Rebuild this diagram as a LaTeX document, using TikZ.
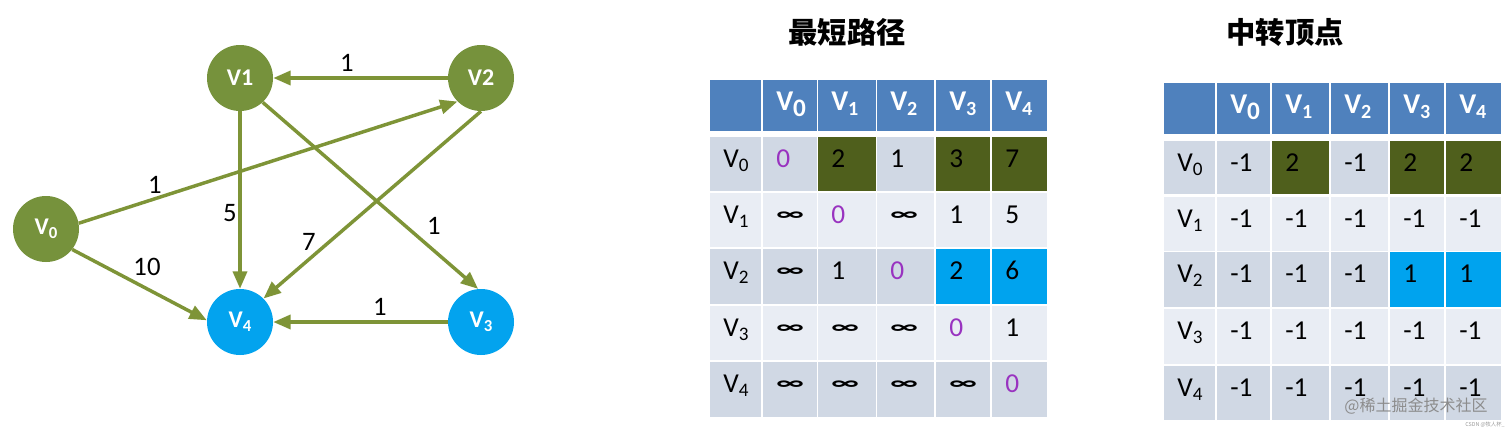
\documentclass[tikz,border=0pt]{standalone}
\usepackage{fontspec}
\usepackage{graphicx}
\setmainfont{Carlito}
\newfontfamily\cjk{Noto Sans CJK SC}
\usetikzlibrary{arrows.meta}
\definecolor{nodeolive}{HTML}{76923C}
\definecolor{edgeolive}{HTML}{7E9437}
\definecolor{nodeblue}{HTML}{03A3EE}
\definecolor{hdrblue}{HTML}{4F81BD}
\definecolor{rowdark}{HTML}{D0D8E4}
\definecolor{rowlight}{HTML}{E9EDF4}
\definecolor{olivecell}{HTML}{4F5F1C}
\definecolor{bluecell}{HTML}{00A3EE}
\definecolor{zpurple}{HTML}{9933C0}
\newcommand\sbs[1]{\raisebox{-0.18em}{\scalebox{0.7}{#1}}}
\newcommand\sbh[1]{\raisebox{-0.22em}{\scalebox{0.88}{#1}}}
\newcommand\zr{\textcolor{zpurple}{0}}
\newcommand\infs{\raisebox{0.08em}{\scalebox{1.2}[0.7]{\bfseries ∞}}}
\def\xlA{{710,763,818,877,936,992}}
\def\xrA{{761,817,876,934,990,1047}}
\def\xlB{{1164,1217,1272,1331,1390,1446}}
\def\xrB{{1215,1270,1329,1388,1444,1501}}
\newcommand\tabrow[6]{%
  \foreach \fc/\st/\tx [count=\k from 0] in {#6}{%
    \pgfmathsetmacro\xl{#1[\k]}%
    \pgfmathsetmacro\xr{#2[\k]}%
    \fill[\fc] (\xl,#3) rectangle (\xr,#4);
    \node[\st] (#5-\k) at (\xl+13,#3+30) {\tx};
  }}
\begin{document}
\begin{tikzpicture}[x=0.75pt,y=-0.75pt,
  vtx/.style={circle,minimum size=49.5pt,inner sep=0pt,text=white,font=\bfseries\fontsize{18}{18}\selectfont},
  gnode/.style={vtx,fill=nodeolive},
  bnode/.style={vtx,fill=nodeblue},
  edge/.style={draw=edgeolive,line width=2.6pt,-{Triangle[length=13pt,width=10.5pt]}},
  wlabel/.style={font=\fontsize{20}{20}\selectfont,text=black,inner sep=0pt},
  cell/.style={anchor=base west,inner sep=0pt,text=black,font=\fontsize{20.5}{20.5}\selectfont},
  hcell/.style={cell,text=white,font=\bfseries\fontsize{21.5}{21.5}\selectfont},
  title/.style={font=\cjk\bfseries\fontsize{22}{22}\selectfont,inner sep=0pt}]
\fill[white] (0,0) rectangle (1512,432);
\useasboundingbox (0,0) rectangle (1512,432);
% graph
\node[gnode] (v0) at (46,229) {V\sbs{0}};
\node[gnode] (v1) at (240,78) {V1};
\node[gnode] (v2) at (481,78) {V2};
\node[bnode] (v3) at (481,322) {V\sbs{3}};
\node[bnode] (v4) at (240,322) {V\sbs{4}};
\draw[edge] (v2) -- (v1);
\draw[edge] (v3) -- (v4);
\draw[edge] (v1) -- (v4);
\draw[edge] (v0.10) -- (v2.225);
\draw[edge] (v0.-38) -- (v4.177);
\draw[edge] (v2.270) -- (v4.45);
\draw[edge] (v1.-47) -- (v3.95);
\node[wlabel] (l21) at (347,63) {1};
\node[wlabel] (l02) at (155,185) {1};
\node[wlabel] (l14) at (230,213) {5};
\node[wlabel] (l04) at (147,267) {10};
\node[wlabel] (l24) at (309,242) {7};
\node[wlabel] (l13) at (434,226) {1};
\node[wlabel] (l34) at (380,307) {1};
% titles
\node[title] (t1) at (847,32) {最短路径};
\node[title] (t2) at (1285,32) {中转顶点};
% table A
\tabrow{\xlA}{\xrA}{80}{131}{Ah}{hdrblue/hcell/{}, hdrblue/hcell/V\sbh{0}, hdrblue/hcell/V\sbs{1}, hdrblue/hcell/V\sbs{2}, hdrblue/hcell/V\sbs{3}, hdrblue/hcell/V\sbs{4}}
\tabrow{\xlA}{\xrA}{137}{191}{Aa}{rowdark/cell/V\sbs{0}, rowdark/cell/\zr, olivecell/cell/2, rowdark/cell/1, olivecell/cell/3, olivecell/cell/7}
\tabrow{\xlA}{\xrA}{193}{247}{Ab}{rowlight/cell/V\sbs{1}, rowlight/cell/\infs, rowlight/cell/\zr, rowlight/cell/\infs, rowlight/cell/1, rowlight/cell/5}
\tabrow{\xlA}{\xrA}{249}{304}{Ac}{rowdark/cell/V\sbs{2}, rowdark/cell/\infs, rowdark/cell/1, rowdark/cell/\zr, bluecell/cell/2, bluecell/cell/6}
\tabrow{\xlA}{\xrA}{306}{360}{Ad}{rowlight/cell/V\sbs{3}, rowlight/cell/\infs, rowlight/cell/\infs, rowlight/cell/\infs, rowlight/cell/\zr, rowlight/cell/1}
\tabrow{\xlA}{\xrA}{362}{417}{Ae}{rowdark/cell/V\sbs{4}, rowdark/cell/\infs, rowdark/cell/\infs, rowdark/cell/\infs, rowdark/cell/\infs, rowdark/cell/\zr}
% table B
\tabrow{\xlB}{\xrB}{83}{134}{Bh}{hdrblue/hcell/{}, hdrblue/hcell/V\sbh{0}, hdrblue/hcell/V\sbs{1}, hdrblue/hcell/V\sbs{2}, hdrblue/hcell/V\sbs{3}, hdrblue/hcell/V\sbs{4}}
\tabrow{\xlB}{\xrB}{141}{194}{Ba}{rowdark/cell/V\sbs{0}, rowdark/cell/-1, olivecell/cell/2, rowdark/cell/-1, olivecell/cell/2, olivecell/cell/2}
\tabrow{\xlB}{\xrB}{197}{251}{Bb}{rowlight/cell/V\sbs{1}, rowlight/cell/-1, rowlight/cell/-1, rowlight/cell/-1, rowlight/cell/-1, rowlight/cell/-1}
\tabrow{\xlB}{\xrB}{252}{307}{Bc}{rowdark/cell/V\sbs{2}, rowdark/cell/-1, rowdark/cell/-1, rowdark/cell/-1, bluecell/cell/1, bluecell/cell/1}
\tabrow{\xlB}{\xrB}{309}{364}{Bd}{rowlight/cell/V\sbs{3}, rowlight/cell/-1, rowlight/cell/-1, rowlight/cell/-1, rowlight/cell/-1, rowlight/cell/-1}
\tabrow{\xlB}{\xrB}{366}{420}{Be}{rowdark/cell/V\sbs{4}, rowdark/cell/-1, rowdark/cell/-1, rowdark/cell/-1, rowdark/cell/-1, rowdark/cell/-1}
% watermark
\node[font=\cjk\fontsize{12}{12}\selectfont, text=black!45, inner sep=0pt] (wm) at (1416,406) {@稀土掘金技术社区};
\node[font=\cjk\fontsize{4}{4}\selectfont, text=black!40, inner sep=0pt] (cs) at (1485,425) {CSDN @牧人杯\_};
\end{tikzpicture}
\end{document}
